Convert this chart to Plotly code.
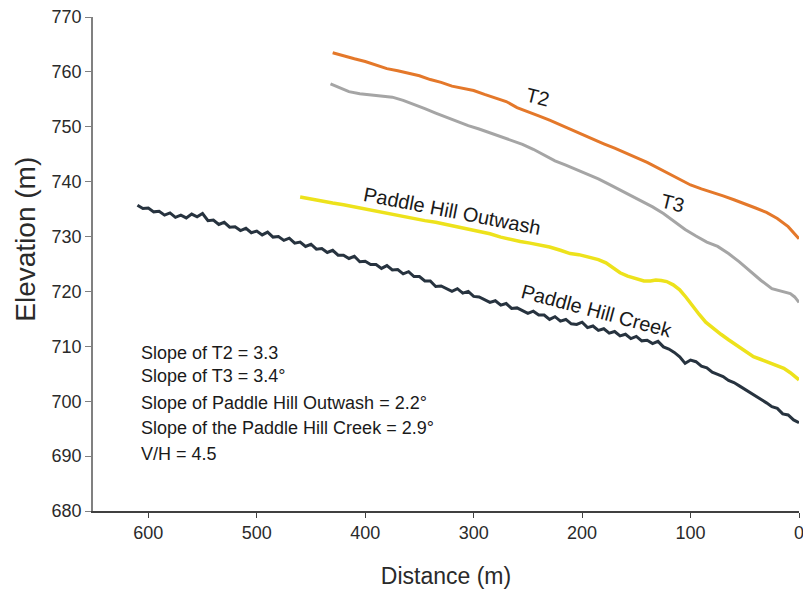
import plotly.graph_objects as go

# ---------------- data ----------------
t2_dist = [430, 420, 410, 400, 390, 380, 370, 360, 350, 340, 330, 320, 310, 300, 290, 280,
           270, 260, 250, 240, 230, 220, 210, 200, 190, 180, 170, 160, 150, 140, 130, 120,
           110, 100, 90, 80, 70, 60, 50, 40, 30, 20, 10, 0]
t2_elev = [763.5, 762.9, 762.4, 761.9, 761.2, 760.6, 760.2, 759.7, 759.3, 758.6, 758.1, 757.4,
           757.0, 756.6, 755.9, 755.3, 754.6, 753.5, 752.8, 752.0, 751.2, 750.4, 749.5, 748.6,
           747.7, 746.9, 746.1, 745.3, 744.4, 743.5, 742.5, 741.5, 740.4, 739.4, 738.7, 738.1,
           737.4, 736.7, 736.0, 735.2, 734.4, 733.3, 731.8, 729.6]

t3_dist = [432, 425, 415, 405, 395, 385, 375, 365, 355, 345, 335, 325, 315, 305, 295, 285,
           275, 265, 255, 245, 235, 225, 215, 205, 195, 185, 175, 165, 155, 145, 135, 125,
           115, 105, 95, 85, 75, 65, 55, 45, 35, 25, 15, 8, 4, 0]
t3_elev = [757.8, 757.2, 756.4, 756.0, 755.8, 755.6, 755.4, 754.8, 754.1, 753.3, 752.5, 751.7,
           750.9, 750.2, 749.6, 748.9, 748.3, 747.6, 746.8, 745.9, 744.9, 743.8, 743.0, 742.2,
           741.4, 740.5, 739.5, 738.5, 737.5, 736.5, 735.4, 734.2, 732.8, 731.3, 730.1, 729.0,
           728.2, 726.9, 725.4, 723.7, 722.0, 720.5, 719.9, 719.6, 719.0, 718.0]

outwash_dist = [460, 450, 440, 430, 420, 410, 400, 390, 377, 365, 355, 345, 335, 325, 315, 305,
                295, 285, 275, 265, 257, 248, 240, 230, 220, 211, 203, 195, 185, 178, 172, 165,
                158, 150, 143, 137, 132, 127, 122, 116, 110, 104, 98, 92, 86, 80, 72, 65,
                58, 50, 42, 35, 28, 20, 14, 8, 4, 0]
outwash_elev = [737.2, 736.8, 736.5, 736.1, 735.8, 735.4, 735.0, 734.7, 734.2, 733.7, 733.3, 732.9,
                732.6, 732.2, 731.8, 731.4, 731.0, 730.5, 729.9, 729.4, 729.1, 728.8, 728.5, 728.1,
                727.5, 726.9, 726.7, 726.3, 725.8, 725.2, 724.4, 723.4, 722.8, 722.3, 721.9, 721.9,
                722.1, 722.0, 721.8, 721.2, 720.3, 718.9, 717.3, 715.8, 714.4, 713.4, 712.2, 711.2,
                710.2, 709.1, 708.1, 707.6, 707.1, 706.5, 706.0, 705.2, 704.6, 703.9]

# creek profile sampled every 5 m, starting at 610 m
creek_start = 610
creek_step = -5
creek_elev = [
    735.7, 735.1, 735.2, 734.5, 734.6, 733.9, 734.3, 733.5, 733.9, 733.4,   # 610-565
    734.1, 733.6, 734.2, 732.9, 733.0, 732.2, 732.6, 731.7, 731.8, 731.1,   # 560-515
    731.5, 730.7, 731.0, 730.3, 730.8, 729.9, 730.0, 729.3, 729.7, 728.8,   # 510-465
    729.0, 728.2, 728.6, 727.7, 727.8, 727.1, 727.5, 726.6, 726.6, 726.0,   # 460-415
    726.4, 725.4, 725.5, 724.9, 724.9, 724.2, 724.7, 723.9, 724.0, 723.2,   # 410-365
    723.6, 722.7, 722.7, 721.9, 721.9, 720.9, 721.0, 720.5, 720.0, 720.5,   # 360-315
    719.7, 720.0, 719.1, 719.0, 718.5, 718.0, 718.3, 717.5, 717.8, 716.9,   # 310-265
    717.0, 716.5, 716.0, 716.4, 715.7, 715.7, 714.9, 715.4, 714.6, 714.9,   # 260-215
    714.1, 714.0, 714.4, 713.4, 713.7, 712.9, 713.2, 712.4, 712.7, 711.9,   # 210-165
    712.2, 711.4, 711.8, 711.0, 711.1, 710.5, 710.9, 709.9, 709.5, 708.9,   # 160-115
    708.1, 706.9, 707.5, 707.2, 706.4, 706.1, 705.3, 704.9, 704.5, 703.8,   # 110-65
    703.4, 702.8, 702.2, 701.5, 701.0, 700.4, 699.7, 699.0, 698.7, 697.7,   # 60-15
    697.5, 696.6, 696.1                                                     # 10-0
]

x_ticks = [600, 500, 400, 300, 200, 100, 0]
y_ticks = [680, 690, 700, 710, 720, 730, 740, 750, 760, 770]

slope_lines = [
    "Slope of T2 = 3.3",
    "Slope of T3 = 3.4°",
    "Slope of Paddle Hill Outwash = 2.2°",
    "Slope of the Paddle Hill Creek = 2.9°",
    "V/H = 4.5",
]
slope_text_y = [708.8, 704.6, 699.7, 695.1, 690.4]

# curve labels: (text, distance, elevation, angle)
curve_labels = [
    ("T2", 241, 755.4, 14),
    ("T3", 117, 736.1, 14),
    ("Paddle Hill Outwash", 320, 734.6, 11),
    ("Paddle Hill Creek", 186, 716.4, 15),
]

FONT = "Liberation Sans, Arial, sans-serif"

fig = go.Figure()
fig.add_trace(go.Scatter(x=t2_dist, y=t2_elev, mode="lines",
                         line=dict(color="#E4782A", width=3), name="T2"))
fig.add_trace(go.Scatter(x=t3_dist, y=t3_elev, mode="lines",
                         line=dict(color="#A5A5A5", width=3), name="T3"))
fig.add_trace(go.Scatter(x=outwash_dist, y=outwash_elev, mode="lines",
                         line=dict(color="#EDE21B", width=3.5), name="Paddle Hill Outwash"))
fig.add_trace(go.Scatter(x0=creek_start, dx=creek_step, y=creek_elev, mode="lines",
                         line=dict(color="#27333F", width=3), name="Paddle Hill Creek"))

for txt, yv in zip(slope_lines, slope_text_y):
    fig.add_annotation(x=609, y=yv, xref="x", yref="y", text=txt, showarrow=False,
                       xanchor="left", yanchor="middle",
                       font=dict(family=FONT, size=18, color="#1a1a1a"))

for txt, xv, yv, ang in curve_labels:
    fig.add_annotation(x=xv, y=yv, xref="x", yref="y", text=txt, showarrow=False,
                       textangle=ang, xanchor="center", yanchor="middle",
                       font=dict(family=FONT, size=20, color="#1a1a1a"))

# y-axis title (placed as an annotation so it can sit above the axis centre)
fig.add_annotation(x=-0.095, y=729.6, xref="paper", yref="y", xanchor="center", yanchor="middle",
                   text="Elevation (m)", textangle=-90, showarrow=False,
                   font=dict(family=FONT, size=28, color="#2a2a2a"))

fig.update_layout(
    width=803, height=593,
    margin=dict(l=93, r=4, t=17, b=82),
    paper_bgcolor="white", plot_bgcolor="white",
    showlegend=False,
    font=dict(family=FONT, color="#333333"),
    xaxis=dict(range=[651, 0], tickvals=x_ticks, ticks="outside", ticklen=5,
               tickcolor="#404040", showline=True, linecolor="#404040", linewidth=1.5,
               showgrid=False, zeroline=False, ticklabeloverflow="allow", automargin=False,
               tickfont=dict(family=FONT, size=18, color="#2a2a2a"),
               title=dict(text="Distance (m)", font=dict(family=FONT, size=23, color="#2a2a2a"),
                          standoff=26)),
    yaxis=dict(range=[680, 770], tickvals=y_ticks, ticks="outside", ticklen=6,
               tickcolor="#808080", showline=True, linecolor="#808080", linewidth=1.5,
               showgrid=False, zeroline=False, automargin=False,
               tickfont=dict(family=FONT, size=18, color="#2a2a2a")),
)

fig.write_html("out.html")
